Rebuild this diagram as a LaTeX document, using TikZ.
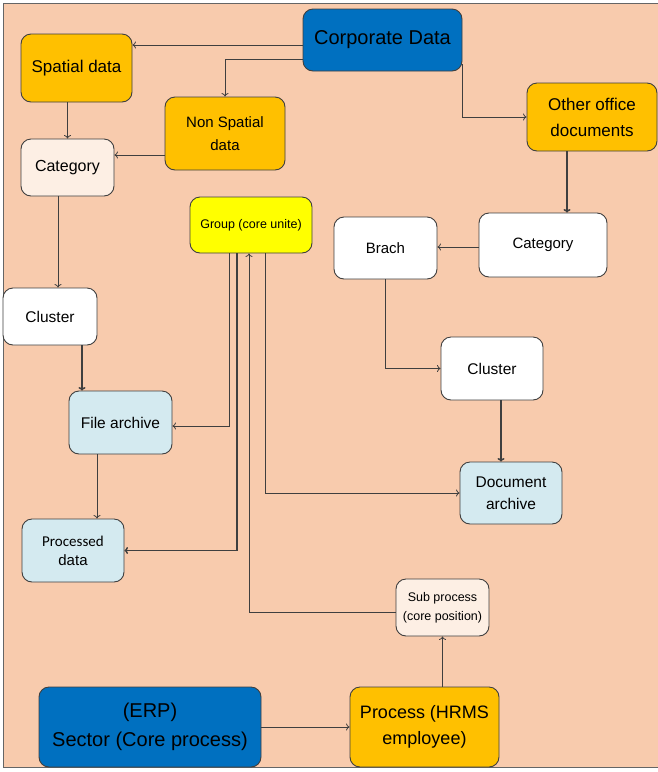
\documentclass[tikz,border=0pt]{standalone}
\usepackage{fontspec}
\setmainfont{Liberation Sans}
\newfontfamily\calib{Carlito}
\usetikzlibrary{arrows.meta}
\definecolor{bg}{HTML}{F8CBAD}
\definecolor{cblue}{HTML}{0070C0}
\definecolor{corange}{HTML}{FFC000}
\definecolor{cyellow}{HTML}{FFFF00}
\definecolor{clight}{HTML}{FDEFE4}
\definecolor{cltblue}{HTML}{D4EAF0}
\definecolor{cline}{HTML}{3F3F3F}
\tikzset{
  box/.style={draw=cline, line width=0.9pt, rounded corners=10pt, align=center, inner sep=2pt, text=black},
  arr/.style={draw=cline, line width=0.8pt, -{To[length=3.5pt,width=7pt]}},
  tarr/.style={arr, line width=1.6pt},
  fs/.style args={#1/#2}{font=\fontsize{#1}{#2}\selectfont}
}
\begin{document}
\begin{tikzpicture}[x=1pt,y=-1pt]
\useasboundingbox (0,0) rectangle (658,772);
\fill[white] (0,0) rectangle (658,772);
\draw[fill=bg, draw=cline!80, line width=1pt] (3,3) rectangle (659,767);

\node[box, fill=cblue, minimum width=159pt, minimum height=62pt, fs=20/24] (corp) at (382.5,40) {Corporate Data};
\node[box, fill=corange, minimum width=111pt, minimum height=68pt, fs=17/20] (spatial) at (76.5,68) {Spatial data};
\node[box, fill=corange, minimum width=120pt, minimum height=73pt, fs=15/23] (nonsp) at (225,133.5) {Non Spatial\\data};
\node[box, fill=clight, minimum width=93pt, minimum height=57pt, fs=16/19] (catL) at (67.5,167.5) {Category};
\node[box, fill=corange, minimum width=130pt, minimum height=68pt, fs=17/26] (other) at (592,117) {Other office\\documents};
\node[box, fill=white, minimum width=128pt, minimum height=64pt, fs=15/18] (catR) at (543,245) {Category};
\node[box, fill=white, minimum width=103pt, minimum height=62pt, fs=15/18] (brach) at (385.5,248) {Brach};
\node[box, fill=cyellow, minimum width=122pt, minimum height=56pt, fs=12.5/15] (group) at (251,225) {Group (core unite)};
\node[box, fill=white, minimum width=94pt, minimum height=57pt, fs=15.5/18] (clusterL) at (50,316.5) {Cluster};
\node[box, fill=white, minimum width=102pt, minimum height=63pt, fs=15.5/18] (clusterR) at (492,368.5) {Cluster};
\node[box, fill=cltblue, minimum width=103pt, minimum height=63pt, fs=15.5/18] (file) at (120.5,422.5) {File archive};
\node[box, fill=cltblue, minimum width=102pt, minimum height=62pt, fs=15.5/22] (doc) at (511,493) {Document\\archive};
\node[box, fill=cltblue, minimum width=102pt, minimum height=63pt, fs=15/19] (proc) at (73,550.5) {{\calib Processed}\\data};
\node[box, fill=clight, minimum width=93pt, minimum height=57pt, fs=12.5/19] (sub) at (442.5,607.5) {Sub process\\(core position)};
\node[box, fill=cblue, minimum width=222pt, minimum height=80pt, fs=20/29] (erp) at (150,727) {(ERP)\\Sector (Core process)};
\node[box, fill=corange, minimum width=149pt, minimum height=80pt, fs=18/26] (process) at (424.5,727) {Process (HRMS\\employee)};

% Corporate Data connectors
\coordinate (c1) at ([yshift=-5pt]corp.west);
\draw[arr] (c1) -- (c1 -| spatial.east);
\coordinate (c2) at ([yshift=-19pt]corp.west);
\draw[arr] (c2) -| (nonsp.north);
\coordinate (c3) at ([yshift=7pt]corp.south east);
\draw[arr] (c3) |- (other.west);

% left column
\coordinate (s1) at (catL.north |- spatial.south);
\draw[arr] (s1) -- (catL.north);
\coordinate (n1) at ([yshift=-21.5pt]nonsp.west);
\draw[arr] (n1) -- (n1 -| catL.east);
\coordinate (k1) at ([xshift=-9.5pt]catL.south);
\draw[arr] (k1) -- (k1 |- clusterL.north);
\coordinate (l1) at ([xshift=32pt]clusterL.south);
\draw[tarr] (l1) -- (l1 |- file.north);
\coordinate (f1) at ([xshift=-23.5pt]file.south);
\draw[arr] (f1) -- (f1 |- proc.north);

% right column
\coordinate (o1) at ([xshift=-25pt]other.south);
\draw[tarr] (o1) -- (o1 |- catR.north);
\coordinate (r1) at ([yshift=-2pt]catR.west);
\draw[arr] (r1) -- (r1 -| brach.east);
\draw[arr] (brach.south) |- (clusterR.west);
\coordinate (m1) at ([xshift=9pt]clusterR.south);
\draw[tarr] (m1) -- (m1 |- doc.north);

% group connectors
\coordinate (g1) at ([xshift=-22pt]group.south);
\coordinate (fa) at ([yshift=-3.5pt]file.east);
\draw[arr] (g1) |- (fa);
\coordinate (g2) at ([xshift=-14pt]group.south);
\draw[arr, line width=1.4pt] (g2) |- (proc.east);
\coordinate (g3) at ([xshift=-2pt]group.south);
\coordinate (sw) at ([yshift=-4.5pt]sub.west);
\draw[arr] (sw) -| (g3);
\coordinate (g4) at ([xshift=14pt]group.south);
\draw[arr] (g4) |- (doc.west);

% bottom
\coordinate (p1) at (process.north -| sub.south);
\draw[arr] (p1) -- (sub.south);
\draw[arr] (erp) -- (process);
\end{tikzpicture}
\end{document}
